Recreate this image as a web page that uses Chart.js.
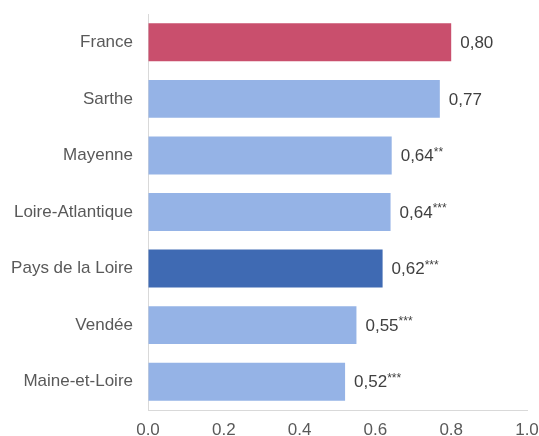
<!DOCTYPE html>
<html><head><meta charset="utf-8">
<script src="https://cdn.jsdelivr.net/npm/chart.js@4"></script>
<style>html,body{margin:0;padding:0;background:#fff}#w{width:539px;height:436px}</style>
</head><body><div id="w"><canvas id="c"></canvas></div>
<script>
const categories = ["France","Sarthe","Mayenne","Loire-Atlantique","Pays de la Loire","Vendée","Maine-et-Loire"];
const values = [0.80,0.77,0.643,0.640,0.619,0.55,0.52];
const valueLabels = ["0,80","0,77","0,64","0,64","0,62","0,55","0,52"];
const significance = ["","","**","***","***","***","***"];
const barColors = ["#C94F6D","#95B3E6","#95B3E6","#95B3E6","#3F6AB3","#95B3E6","#95B3E6"];
const xTicks = [0,0.2,0.4,0.6,0.8,1.0];
const FONT = '"Liberation Sans", Arial, sans-serif';

const labelPlugin = {
  id:'vals',
  afterDatasetsDraw(chart){
    const ctx = chart.ctx;
    const meta = chart.getDatasetMeta(0);
    ctx.save();
    ctx.fillStyle = '#404040';
    ctx.textBaseline = 'middle';
    meta.data.forEach((bar,i)=>{
      const x = bar.x + 9;
      const y = bar.y + 1;
      ctx.font = '17px ' + FONT;
      ctx.textAlign = 'left';
      ctx.fillText(valueLabels[i], x, y);
      const w = ctx.measureText(valueLabels[i]).width;
      if (significance[i]) {
        ctx.font = '12px ' + FONT;
        ctx.fillText(significance[i], x + w, y - 4);
      }
    });
    ctx.restore();
  }
};

new Chart(document.getElementById('c'), {
  type:'bar',
  data:{labels:categories, datasets:[{data:values, backgroundColor:barColors, borderWidth:0, categoryPercentage:0.67, barPercentage:1}]},
  options:{
    indexAxis:'y',
    responsive:true, maintainAspectRatio:false, animation:false,
    devicePixelRatio:1,
    layout:{padding:{top:14,right:12,left:0,bottom:0}},
    plugins:{legend:{display:false}, tooltip:{enabled:false}},
    scales:{
      x:{min:0,max:1,
        afterBuildTicks(s){ s.ticks = xTicks.map(v=>({value:v})); },
        afterFit(s){ s.height = 26; s.paddingLeft = 0; s.paddingRight = 0; },
        grid:{display:true,color:'transparent',drawTicks:false},
        border:{display:true,color:'#D9D9D9',width:1},
        ticks:{padding:10,color:'#595959',maxRotation:0,font:{size:17,family:FONT},callback:(v)=>Number(v).toFixed(1)}
      },
      y:{
        afterFit(s){ s.width = 148; s.paddingTop = 0; s.paddingBottom = 0; },
        grid:{display:true,color:'transparent',drawTicks:false},
        border:{display:true,color:'#D9D9D9',width:1},
        ticks:{padding:15,color:'#595959',font:{size:17,family:FONT}}
      }
    }
  },
  plugins:[labelPlugin]
});
</script></body></html>
